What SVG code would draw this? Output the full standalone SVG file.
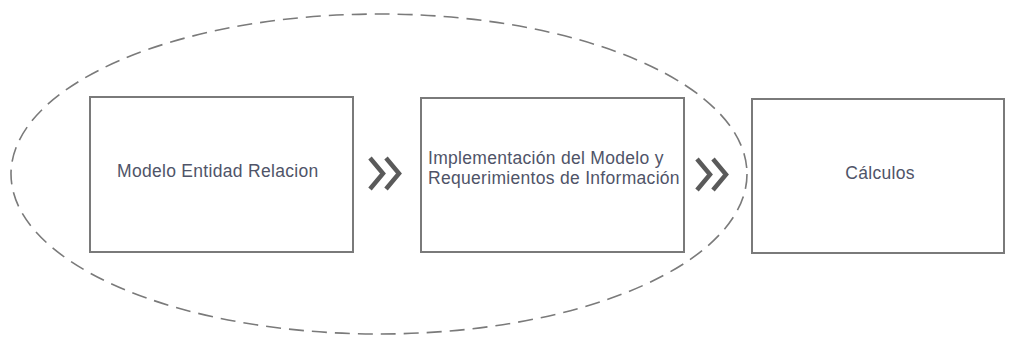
<svg xmlns="http://www.w3.org/2000/svg" width="1011" height="339" viewBox="0 0 1011 339">
<style>
.box{fill:#fff;stroke:#7a7a7a;stroke-width:2}
.lbl{font-family:"Liberation Sans",Arial,sans-serif;font-size:17.5px;letter-spacing:0.3px;fill:#4f5468}
.chev{fill:none;stroke:#5a5a5a;stroke-width:4.5;stroke-linecap:butt;stroke-linejoin:miter}
.scope{fill:none;stroke:#7a7a7a;stroke-width:1.6;stroke-dasharray:15 8}
</style>
<rect width="1011" height="339" fill="#fff"/>
<ellipse class="scope" cx="379" cy="174" rx="368" ry="160"/>
<g id="node-modelo">
<rect class="box" x="90" y="97" width="263" height="155"/>
<text class="lbl" x="117" y="177">Modelo Entidad Relacion</text>
</g>
<g id="node-implementacion">
<rect class="box" x="421" y="98" width="263" height="154"/>
<text class="lbl" x="428" y="164">Implementación del Modelo y</text>
<text class="lbl" x="428" y="184">Requerimientos de Información</text>
</g>
<g id="node-calculos">
<rect class="box" x="752" y="99" width="252" height="154"/>
<text class="lbl" x="880" y="179" text-anchor="middle">Cálculos</text>
</g>
<g id="connectors">
<polyline class="chev" points="370,158 383,173.5 370,189"/>
<polyline class="chev" points="386,158 399,173.5 386,189"/>
<polyline class="chev" points="697,159 710,174.5 697,190"/>
<polyline class="chev" points="713,159 726,174.5 713,190"/>
</g>
</svg>
